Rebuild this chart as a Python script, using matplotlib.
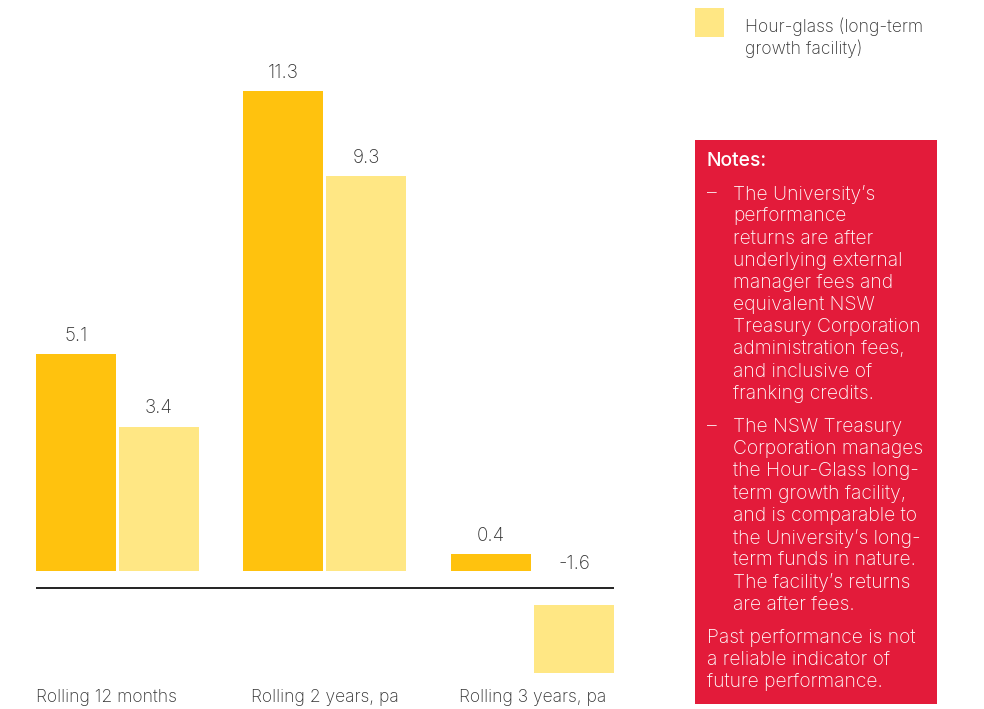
import matplotlib
matplotlib.use("Agg")
import matplotlib.pyplot as plt
from matplotlib.patches import Rectangle

# ---- data ----
categories = ["Rolling 12 months", "Rolling 2 years, pa", "Rolling 3 years, pa"]
university = [5.1, 11.3, 0.4]
hourglass = [3.4, 9.3, -1.6]
hourglass_label = "Hour-glass (long-term\ngrowth facility)"

notes_title = "Notes:"
note1 = ["The University’s", "performance", "returns are after", "underlying external",
         "manager fees and", "equivalent NSW", "Treasury Corporation",
         "administration fees,", "and inclusive of", "franking credits."]
note2 = ["The NSW Treasury", "Corporation manages", "the Hour-Glass long-",
         "term growth facility,", "and is comparable to", "the University’s long-",
         "term funds in nature.", "The facility’s returns", "are after fees."]
note3 = ["Past performance is not", "a reliable indicator of", "future performance."]

# ---- style ----
DARK = "#FFC20E"
LIGHT = "#FFE784"
RED = "#E31B3A"
TXT = "#333333"
FONT = ["Inter", "DejaVu Sans"]
FS = 12.6
FSV = 13.6
FSN = 13.9
plt.rcParams["font.family"] = FONT

W, H = 984, 709
fig = plt.figure(figsize=(W / 100, H / 100), dpi=100)

def fx(x):
    return x / W

def fy(y):
    return 1 - y / H

ax = fig.add_axes([fx(36), 0, (614 - 36) / W, 1])
scale = 42.5
zero_px = H - 588
ax.set_ylim(-zero_px / scale, (H - zero_px) / scale)
ax.set_xlim(-0.3928, 2.393)
ax.axis("off")

gap = 17 / scale
w = 80 / 207.5
off = 0.2
xs = list(range(len(categories)))

def bottoms(vals):
    return [gap if v >= 0 else -gap for v in vals]

ax.bar([x - off for x in xs], university, width=w, bottom=bottoms(university),
       color=DARK, linewidth=0)
ax.bar([x + off for x in xs], hourglass, width=w, bottom=bottoms(hourglass),
       color=LIGHT, linewidth=0)

ax.axhline(0, color="#111111", linewidth=1.3, xmin=0, xmax=1)

LW = "light"

def label(x, v):
    if v >= 0:
        ax.annotate(f"{v:.1f}", (x, gap + v), xytext=(0, 13), textcoords="offset points",
                    ha="center", va="center", fontsize=FSV, color=TXT, fontweight=LW)
    else:
        ax.annotate(f"{v:.1f}", (x, 0), xytext=(0, 17), textcoords="offset points",
                    ha="center", va="center", fontsize=FSV, color=TXT, fontweight=LW)

for x, v in zip(xs, university):
    label(x - off, v)
for x, v in zip(xs, hourglass):
    label(x + off, v)

for i, c in enumerate(categories):
    if i == 0:
        ax.text(-0.3928, -(697 - 588) / scale, c, ha="left", va="center",
                fontsize=FS, color=TXT, fontweight=LW)
    else:
        ax.text(i, -(697 - 588) / scale, c, ha="center", va="center",
                fontsize=FS, color=TXT, fontweight=LW)

# legend (manual)
fig.patches.append(Rectangle((fx(695), fy(37)), 29 / W, 29 / H,
                             transform=fig.transFigure, color=LIGHT, linewidth=0))
for j, line in enumerate(hourglass_label.split("\n")):
    fig.text(fx(745), fy(27 + 22 * j), line, ha="left", va="center",
             fontsize=FS, color=TXT, fontweight=LW)

# notes box
fig.patches.append(Rectangle((fx(695), fy(704)), (937 - 695) / W, (704 - 140) / H,
                             transform=fig.transFigure, color=RED, linewidth=0))
fig.text(fx(707), fy(161), notes_title, ha="left", va="center", fontsize=FSN,
         color="white", fontweight="medium")
step = 22.2
y0 = 194
fig.text(fx(707), fy(y0), "–", ha="left", va="center", fontsize=FSN, color="white",
         fontweight=LW)
for j, line in enumerate(note1):
    fig.text(fx(733), fy(y0 + step * j), line, ha="left", va="center",
             fontsize=FSN, color="white", fontweight=LW)
y0 = 427
fig.text(fx(707), fy(y0), "–", ha="left", va="center", fontsize=FSN, color="white",
         fontweight=LW)
for j, line in enumerate(note2):
    fig.text(fx(733), fy(y0 + step * j), line, ha="left", va="center",
             fontsize=FSN, color="white", fontweight=LW)
y0 = 638
for j, line in enumerate(note3):
    fig.text(fx(707), fy(y0 + step * j), line, ha="left", va="center",
             fontsize=FSN, color="white", fontweight=LW)

fig.savefig("out.png", dpi=100, facecolor="white")
